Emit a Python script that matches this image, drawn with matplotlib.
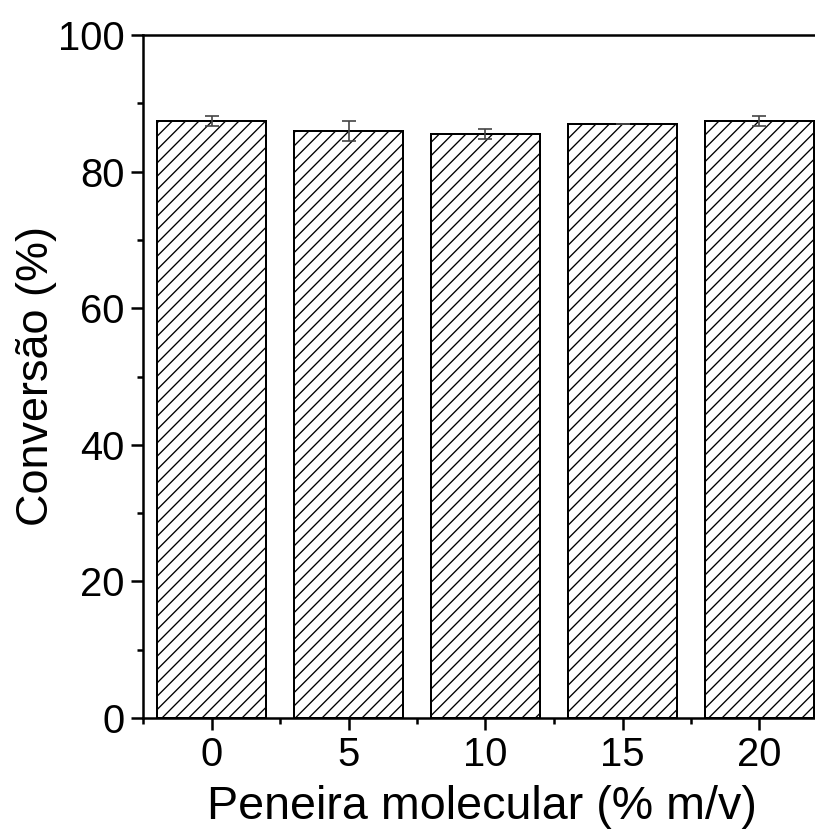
import numpy as np
import matplotlib.pyplot as plt
from matplotlib.ticker import MultipleLocator

# Conversão em função da quantidade de peneira molecular
peneira = [0, 5, 10, 15, 20]
conversao = [87.4, 85.95, 85.45, 86.97, 87.4]
erro = [0.73, 1.42, 0.73, 0.0, 0.73]

plt.rcParams['font.family'] = ['Liberation Sans', 'DejaVu Sans']
plt.rcParams['hatch.linewidth'] = 0.8
plt.rcParams['hatch.color'] = 'black'

DPI = 120
fig = plt.figure(figsize=(815 / DPI, 833 / DPI), dpi=DPI)
ax = fig.add_axes([143 / 815, 115 / 833, 685 / 815, 683 / 833])

ax.bar(peneira, conversao, width=4, color='white', edgecolor='black',
       linewidth=1.2, hatch='///', zorder=2)
ax.errorbar(peneira, conversao, yerr=erro, fmt='none', ecolor='#444444',
            elinewidth=1.0, capsize=4, capthick=1.0, zorder=3)

ax.set_xlim(-2.5, 22.5)
ax.set_ylim(0, 100)
ax.xaxis.set_major_locator(MultipleLocator(5))
ax.xaxis.set_minor_locator(MultipleLocator(2.5))
ax.yaxis.set_major_locator(MultipleLocator(20))
ax.yaxis.set_minor_locator(MultipleLocator(10))

for side in ['left', 'top', 'bottom']:
    ax.spines[side].set_linewidth(1.5)
ax.spines['right'].set_visible(False)

ax.tick_params(which='major', direction='out', length=7, width=1.5,
               labelsize=24, pad=4)
ax.tick_params(which='minor', direction='out', length=3.5, width=1.5)
ax.tick_params(top=False, right=False, which='both')

ax.set_xlabel('Peneira molecular (% m/v)', fontsize=28)
ax.set_ylabel('Conversão (%)', fontsize=27)
ax.xaxis.set_label_coords(0.495, -0.098)
ax.yaxis.set_label_coords(-0.125, 0.5)

fig.savefig('out.png', dpi=DPI)
